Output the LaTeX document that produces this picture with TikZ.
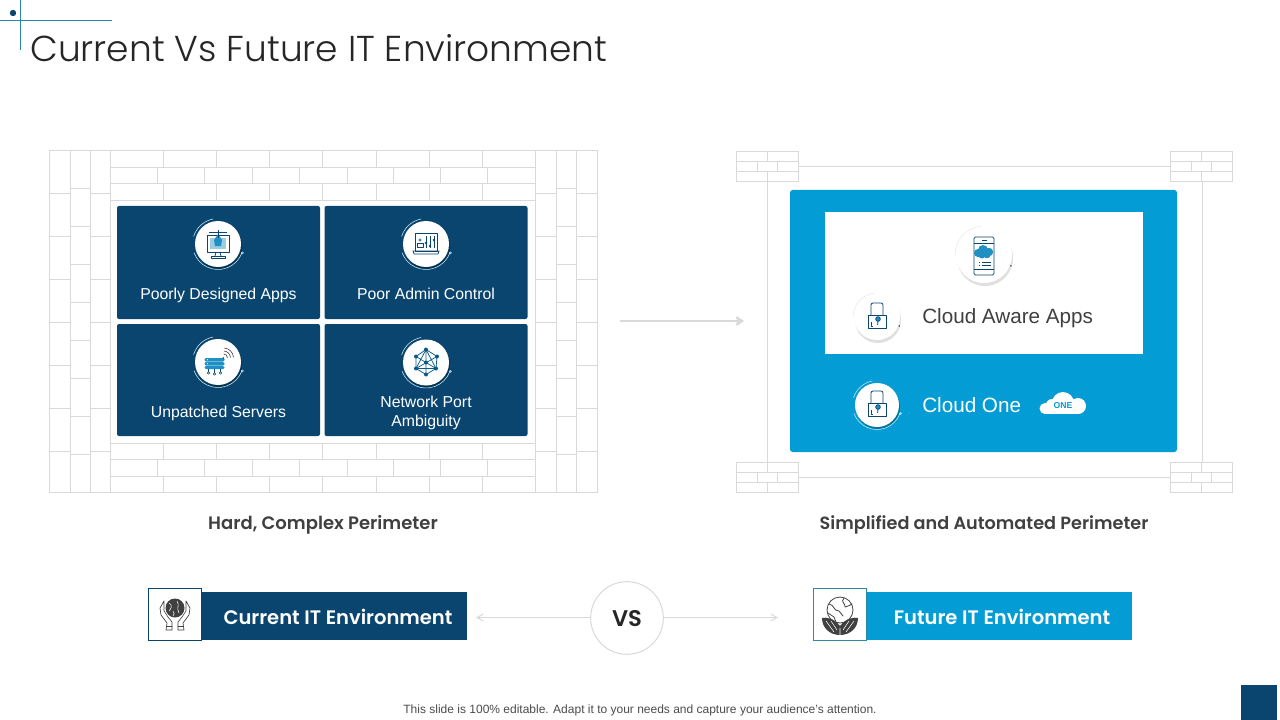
\documentclass[tikz,border=0pt]{standalone}
\usepackage{fontspec}
\usetikzlibrary{arrows.meta}
\setmainfont{Liberation Sans}
\newfontfamily\titlefont{Poppins Light}
\newfontfamily\headfont{Poppins SemiBold}
\definecolor{navy}{HTML}{0A4570}
\definecolor{sky}{HTML}{049CD4}
\definecolor{wall}{HTML}{D9D9D9}
\definecolor{teal}{HTML}{2A8CA0}
\definecolor{ink}{HTML}{404040}
\definecolor{iconblue}{HTML}{1F8FC4}
\tikzset{
  wl/.style={draw=wall,line width=0.75pt},
  cardbox/.style={fill=navy,rounded corners=1.5pt,inner sep=0pt,minimum width=152.25pt,minimum height=84.75pt},
  cardtext/.style={text=white,font=\fontsize{11.85}{14.25}\selectfont,align=center,inner sep=0pt},
  cloudtext/.style={font=\fontsize{15.5}{19}\selectfont,anchor=west,inner sep=0pt},
  perim/.style={font=\headfont\fontsize{13.5}{15}\selectfont,text=ink,inner sep=0pt},
  barbox/.style={inner sep=0pt,minimum height=36pt,minimum width=198.75pt},
  iconbox/.style={draw,fill=white,line width=0.75pt,inner sep=0pt,minimum width=40pt,minimum height=39.5pt},
  bartext/.style={text=white,font=\headfont\fontsize{14.65}{18}\selectfont,inner sep=0pt},
  ic/.style={draw=navy,line width=0.6pt,line join=round},
  gr/.style={draw=ink,line width=0.6pt,line join=round,line cap=round},
  arr/.style={draw=wall,line width=0.75pt,-{Straight Barb[length=4.5pt,width=5pt]}},
}
% ring badge on a dark card: x, y, colour, disc radius, ring radius
\newcommand{\ringbadge}[5]{%
  \fill[black,opacity=.25] (#1+1,#2+2) circle[radius=#4];
  \fill[white] (#1,#2) circle[radius=#4];
  \draw[#3,line width=0.4pt] (#1,#2) ++(160:#5) arc[start angle=160,end angle=20,radius=#5];
  \draw[#3,line width=0.4pt] (#1,#2) ++(-163:#5) arc[start angle=-163,end angle=-101,radius=#5];
  \draw[#3,line width=0.4pt] (#1,#2) ++(20:#5+0.5) circle[radius=1];
}
% soft badge on white
\newcommand{\softbadge}[3]{%
  \fill[black!12] (#1+1,#2+3) circle[radius=#3];
  \fill[white] (#1,#2) circle[radius=#3];
  \draw[black!8,line width=0.5pt] (#1,#2) ++(180:#3+1) arc[start angle=180,end angle=265,radius=#3+1];
  \fill[ink] (#1,#2) ++(22:#3+1) circle[radius=0.9];
}
\newcommand{\padlock}[2]{%
  \begin{scope}[shift={(#1,#2)}]
    \draw[ic,rounded corners=1.5pt] (-6,-1) -- (-6,-13) -- (6,-13) -- (6,-1);
    \draw[ic,fill=white] (-9,-1) rectangle (9,12);
    \fill[iconblue] (1,3) circle[radius=2.3];
    \draw[ic] (1,3) circle[radius=2.3];
    \draw[ic] (1,5) -- (0.6,9);
    \draw[ic] (-6,6) -- (-6,10) -- (-4,10);
  \end{scope}
}
\begin{document}
\begin{tikzpicture}[x=0.75pt,y=-0.75pt]
\useasboundingbox (0,0) rectangle (1280,720);
\fill[white] (0,0) rectangle (1280,720);
% corner mark
\draw[teal,line width=0.75pt] (0,20.5) -- (112,20.5);
\draw[teal,line width=0.75pt] (20.5,0) -- (20.5,50);
\fill[navy] (13,13) circle[radius=3.2];
\node[anchor=base west,inner sep=0pt,font=\titlefont\fontsize{27}{32}\selectfont,text=black!85] (title) at (30,62) {Current Vs Future IT Environment};
% ---- left wall
\begin{scope}[shift={(0.3,0.4)}]
\draw[wl] (49,150) rectangle (597,492);
\foreach \x in {70,90,110,535,556,576} \draw[wl] (\x,150) -- (\x,492);
\foreach \y in {167,183,200,443,459,476} \draw[wl] (110,\y) -- (535,\y);
\foreach \yt/\yb in {150/167,183/200,443/459,476/492}
  \foreach \x in {163,216,269,322,376,429,482} \draw[wl] (\x,\yt) -- (\x,\yb);
\foreach \yt/\yb in {167/183,459/476}
  \foreach \x in {157,204,252,299,347,393,440,487} \draw[wl] (\x,\yt) -- (\x,\yb);
\foreach \y in {193,236,279,322,365,408,451} {
  \draw[wl] (49,\y) -- (70,\y); \draw[wl] (90,\y) -- (110,\y);
  \draw[wl] (535,\y) -- (556,\y); \draw[wl] (576,\y) -- (597,\y);
}
\foreach \y in {188,226,264,302,340,378,416,454} {
  \draw[wl] (70,\y) -- (90,\y); \draw[wl] (556,\y) -- (576,\y);
}
\end{scope}
% ---- cards
\node[cardbox] (c1) at (218.5,262.5) {};
\node[cardbox] (c2) at (426,262.5) {};
\node[cardbox,minimum height=84pt] (c3) at (218.5,380) {};
\node[cardbox,minimum height=84pt] (c4) at (426,380) {};
\node[cardtext,anchor=base] (t1) at (218.5,299.5) {Poorly Designed Apps};
\node[cardtext,anchor=base] (t2) at (426,299.5) {Poor Admin Control};
\node[cardtext,anchor=base] (t3) at (218.5,417.5) {Unpatched Servers};
\node[cardtext] (t4) at (426,413) {Network Port\\Ambiguity};
\ringbadge{218}{244}{white!80!sky}{23}{25.5}
\ringbadge{426}{244}{white!80!sky}{23}{25.5}
\ringbadge{218}{362}{white!80!sky}{23}{25.5}
\ringbadge{426}{362.5}{white!80!sky}{23}{25.5}
% monitor icon
\begin{scope}[shift={(218,244)}]
  \draw[ic] (-11,-9) rectangle (11,8);
  \fill[iconblue!45] (-8,-6) rectangle (8,5);
  \fill[iconblue] (-4,-4) -- (0,-10) -- (4,-4) -- (3,2) -- (-3,2) -- cycle;
  \draw[ic] (-9,-12) -- (9,-12); \draw[ic] (0,-14) -- (0,-6);
  \draw[ic] (-2,8) -- (-3,12); \draw[ic] (2,8) -- (3,12);
  \draw[ic] (-7,12) rectangle (7,14);
\end{scope}
% mixer icon
\begin{scope}[shift={(426,244)}]
  \draw[ic] (-11,-11) rectangle (11,7);
  \draw[ic] (-13,7) -- (13,7) -- (12,10) -- (-12,10) -- cycle;
  \foreach \x/\k in {0/-1,4/2,8/-4} {
    \draw[ic] (\x,-8) -- (\x,4);
    \fill[navy] (\x,\k) circle[radius=1.4];
  }
  \fill[iconblue] (-6,-4) circle[radius=1.6];
  \draw[ic] (-9,3) -- (-9,-1) -- (-3,-1) -- (-3,3) -- cycle;
\end{scope}
% server icon
\begin{scope}[shift={(214.5,363)}]
  \fill[iconblue,rounded corners=1pt] (-10,-5) rectangle (10,-1.5);
  \fill[iconblue,rounded corners=1pt] (-10,-1) rectangle (10,2.5);
  \fill[iconblue,rounded corners=1pt] (-10,3) rectangle (10,6);
  \draw[ic,line width=0.45pt] (-6,6) -- (-6,9) (0,6) -- (0,10) (6,6) -- (6,9);
  \foreach \x/\y in {-6/10,0/11,6/10} \draw[ic,line width=0.45pt] (\x,\y) circle[radius=1.2];
  \fill[white] (-7,-3.2) circle[radius=.6] (-7,.8) circle[radius=.6];
  \fill[ink] (9,-5) circle[radius=.9];
  \foreach \r in {4,7,10} \draw[gr,line width=0.45pt] (9,-5) ++(-85:\r) arc[start angle=-85,end angle=-5,radius=\r];
\end{scope}
% network icon
\begin{scope}[shift={(426,362.5)}]
  \coordinate (n0) at (0,0); \coordinate (n1) at (0,-13); \coordinate (n2) at (11,-6);
  \coordinate (n3) at (10,6); \coordinate (n4) at (0,12); \coordinate (n5) at (-10,6); \coordinate (n6) at (-10,-6);
  \draw[draw=navy!75!sky,line width=0.55pt] (n1) -- (n2) -- (n3) -- (n4) -- (n5) -- (n6) -- cycle;
  \draw[draw=navy!75!sky,line width=0.55pt] (n1) -- (n4) (n6) -- (n3) (n2) -- (n5) (n1) -- (n5) (n1) -- (n3) (n5) -- (n3);
  \foreach \n in {n0,n1,n2,n3,n4,n5,n6} \fill[navy!75!sky] (\n) circle[radius=2];
\end{scope}
% ---- center arrow
\coordinate (ma) at (620,321);
\coordinate (mb) at (744,321);
\draw[draw=wall,line width=2pt,-{Straight Barb[length=4pt,width=5.5pt]}] (ma) -- (mb);
% ---- right frame
\begin{scope}[shift={(0,0.3)}]
\draw[wl] (767,181) -- (767,462);
\draw[wl] (1202,181) -- (1202,462);
\draw[wl] (798,166) -- (1170,166);
\draw[wl] (798,477) -- (1170,477);
\foreach \cx/\cy in {767/151,1201/151,767/462,1201/462} {
  \begin{scope}[shift={(\cx,\cy)}]
    \draw[wl] (-31,0) rectangle (31,30);
    \draw[wl] (-31,10) -- (31,10) (-31,20) -- (31,20);
    \draw[wl] (0,0) -- (0,10) (0,20) -- (0,30);
    \draw[wl] (-10,10) -- (-10,20) (10,10) -- (10,20);
  \end{scope}
}
\end{scope}
\node[fill=sky,rounded corners=2pt,inner sep=0pt,minimum width=290.25pt,minimum height=196.5pt] (blue) at (983.5,321) {};
\node[fill=white,inner sep=0pt,minimum width=238.5pt,minimum height=106.5pt] (inner) at (984,283) {};
\softbadge{984}{255}{28}
\softbadge{877}{317}{23}
% phone
\begin{scope}[shift={(984,256)}]
  \draw[ic,rounded corners=1pt] (-10,-19) rectangle (10,19);
  \draw[ic] (-10,-13) -- (10,-13) (-10,13) -- (10,13);
  \draw[ic] (-2,-16) -- (3,-16);
  \fill[iconblue] (-6,-3) circle[radius=4] (-1,-6) circle[radius=5] (5,-4) circle[radius=4.2] (3,-1.5) circle[radius=3.8] (-2,-1.5) circle[radius=4];
  \draw[ic,line width=0.4pt] (-5,6) -- (-4,6) (-2,6) -- (7,6) (-5,9) -- (-4,9) (-2,9) -- (7,9);
\end{scope}
\padlock{877}{316}
\node[cloudtext,text=ink] (cap) at (922,318) {Cloud Aware Apps};
\ringbadge{877}{405}{white!80!sky}{22}{24.5}
\padlock{877}{404}
\node[cloudtext,text=white] (cone) at (922,405.5) {Cloud One};
% cloud
\fill[white] (1045,408.5) circle[radius=5.5] (1063,403) circle[radius=11] (1078,406) circle[radius=8] (1052,405) circle[radius=6];
\fill[white] (1044,405) rectangle (1079,414);
\node[font=\bfseries\fontsize{6.5}{8}\selectfont,text=sky,inner sep=0pt] (onet) at (1063,405.5) {ONE};
% ---- labels
\node[perim] (l1) at (323,525) {Hard, Complex Perimeter};
\node[perim,font=\headfont\fontsize{13.25}{15}\selectfont] (l2) at (984,525) {Simplified and Automated Perimeter};
% ---- bottom bars
\node[barbox,fill=navy] (bar1) at (334.5,616) {};
\node[barbox,fill=sky] (bar2) at (999.5,616) {};
\node[bartext] (bt1) at (338,617) {Current IT Environment};
\node[bartext] (bt2) at (1002,617) {Future IT Environment};
\node[iconbox,draw=navy] (ib1) at (175,614.5) {};
\node[iconbox,draw=teal] (ib2) at (840,614.5) {};
% hands + globe
\begin{scope}[shift={(175,608)}]
  \fill[ink] (0,0) circle[radius=9.5];
  \draw[white,line width=0.4pt] (-6,-5) .. controls (-2,-3) and (-4,1) .. (-6,3) (2,-7) .. controls (5,-3) and (1,0) .. (4,5) (-2,3) .. controls (0,5) and (-1,7) .. (-2,8);
  \draw[gr,line width=0.5pt] (-11,-7) -- (-15,0) -- (-14,7) -- (-8,15) -- (-9,22) -- (-3,22) -- (-3,14) -- (-7,9) -- (-11,3) -- cycle;
  \draw[gr,line width=0.5pt] (11,-7) -- (15,0) -- (14,7) -- (8,15) -- (9,22) -- (3,22) -- (3,14) -- (7,9) -- (11,3) -- cycle;
  \draw[gr,line width=0.5pt] (-8.5,18) -- (-3,18) (8.5,18) -- (3,18);
\end{scope}
% globe + leaves
\begin{scope}[shift={(840,610)}]
  \draw[gr] (0,0) circle[radius=13];
  \draw[gr] (-11,-6) .. controls (-5,-5) and (-7,1) .. (-1,1) .. controls (2,2) and (0,5) .. (3,6) (4,-12) .. controls (0,-8) and (6,-6) .. (5,-3) .. controls (8,-3) and (9,-5) .. (12,-6) (-12,3) -- (-6,7) -- (-4,12);
  \fill[ink] (-18,8) .. controls (-14,7) and (-6,8) .. (0,16) .. controls (6,8) and (14,7) .. (18,8) .. controls (18,18) and (10,25) .. (0,25) .. controls (-10,25) and (-18,18) .. (-18,8) -- cycle;
  \draw[white,line width=0.4pt] (-14,11) -- (-6,22) (-9,11) -- (-3,20) (14,11) -- (6,22) (9,11) -- (3,20) (0,18) -- (0,25);
\end{scope}
% ---- VS
\node[circle,draw=wall,fill=white,line width=0.75pt,minimum size=54.5pt,inner sep=0pt] (vs) at (627,618) {};
\node[font=\headfont\fontsize{17}{20}\selectfont,text=black!85,inner sep=0pt] (vst) at (627,619) {VS};
\coordinate (la) at (476,617.5);
\coordinate (ra) at (778,617.5);
\draw[arr] (vs.west |- la) -- (la);
\draw[arr] (vs.east |- ra) -- (ra);
% ---- footer
\node[font=\fontsize{9}{11}\selectfont,text=black!70,inner sep=0pt] (foot) at (640,710) {This slide is 100\% editable. Adapt it to your needs and capture your audience's attention.};
\fill[navy] (1241,685) rectangle (1277,720);
\end{tikzpicture}
\end{document}
